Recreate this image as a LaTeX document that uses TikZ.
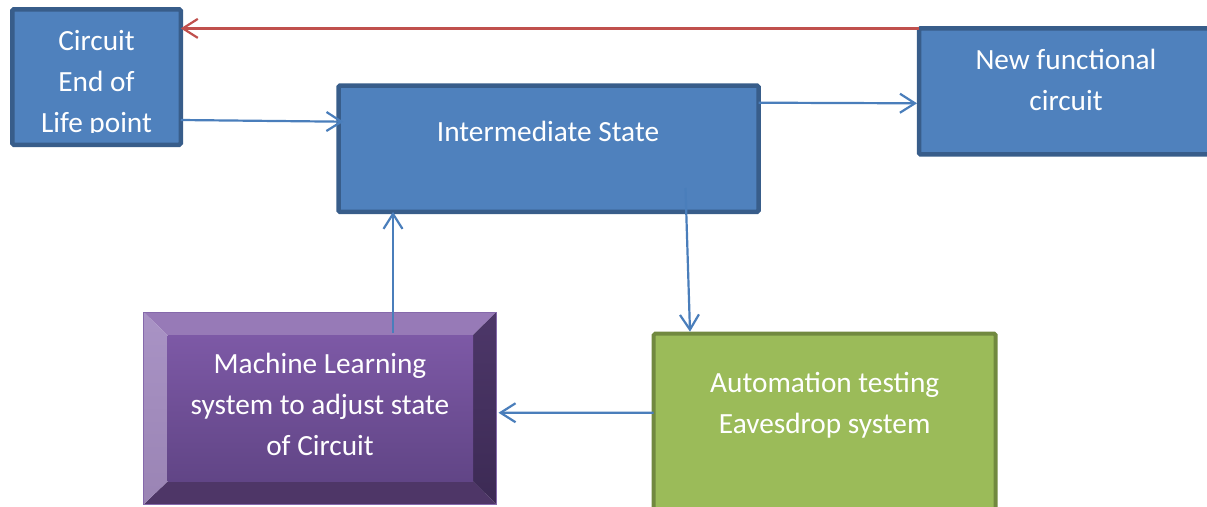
\documentclass[tikz,border=0pt]{standalone}
\usepackage{fontspec}
\setmainfont{Carlito}
\usetikzlibrary{arrows.meta,calc}

\definecolor{boxblue}{HTML}{4F81BD}
\definecolor{boxblueline}{HTML}{385D8A}
\definecolor{greenfill}{HTML}{9BBB59}
\definecolor{greenline}{HTML}{71893F}
\definecolor{arrowblue}{HTML}{4A7EBB}
\definecolor{backred}{HTML}{C0504D}
\definecolor{mltop}{HTML}{977AB7}
\definecolor{mlleftA}{HTML}{A993C5}
\definecolor{mlleftB}{HTML}{9A84B4}
\definecolor{mlrightA}{HTML}{4D3769}
\definecolor{mlrightB}{HTML}{3C2A54}
\definecolor{mlbottom}{HTML}{4E3667}
\definecolor{mlfaceA}{HTML}{7D59A6}
\definecolor{mlfaceB}{HTML}{614586}
\definecolor{mlline}{HTML}{8569AB}

\tikzset{
  blockbase/.style={rectangle, inner sep=0pt, outer sep=0pt, rounded corners=1.5pt},
  bluebox/.style={blockbase, draw=boxblueline, fill=boxblue, line width=4.5pt},
  greenbox/.style={blockbase, draw=greenline, fill=greenfill, line width=4pt},
  boxtext/.style={text=white, font=\fontsize{29.3}{41}\selectfont, inner sep=0pt, anchor=base},
  flow/.style={draw=arrowblue, line width=2.2pt, -{Straight Barb[length=15pt,width=19pt]}},
  back/.style={draw=backred, line width=2.2pt, -{Straight Barb[length=15pt,width=19pt]}}
}
\newcommand\stacklines[1]{\begin{tabular}[t]{@{}c@{}}#1\end{tabular}}

\begin{document}
\begin{tikzpicture}[x=1pt,y=-1pt]
\useasboundingbox (0,0) rectangle (1207,506);
\clip (0,0) rectangle (1207,506);

% blue process boxes
\node[bluebox, minimum width=168.5pt, minimum height=135.5pt] (circ) at (96.5,77) {};
\begin{scope}
  \clip (0,0) rectangle (1207,132);
  \node[boxtext] (circt) at (96.5,50) {\stacklines{Circuit\\End of\\Life point}};
\end{scope}

\node[bluebox, minimum width=420pt, minimum height=126.3pt] (inter) at (548.5,148.7) {};
\node[boxtext] (intert) at (548,141.7) {Intermediate State};

\node[bluebox, minimum width=294pt, minimum height=126pt] (newf) at (1066,91.4) {};
\node[boxtext] (newft) at (1066,69) {\stacklines{New functional\\circuit}};

% green testing box
\node[greenbox, minimum width=342pt, minimum height=190pt] (auto) at (824.7,428.7) {};
\node[boxtext] (autot) at (824.7,392.7) {\stacklines{Automation testing\\Eavesdrop system}};

% bevelled learning box
\node[rectangle, inner sep=0pt, outer sep=0pt, minimum width=353pt, minimum height=192.5pt] (ml) at (320,408.25) {};
\coordinate (fa) at ([shift={(24,23)}]ml.north west);
\coordinate (fb) at ([shift={(-23.5,23)}]ml.north east);
\coordinate (fc) at ([shift={(-23.5,-23)}]ml.south east);
\coordinate (fd) at ([shift={(24,-23)}]ml.south west);
\fill[mltop] (ml.north west) -- (ml.north east) -- (fb) -- (fa) -- cycle;
\shade[top color=mlrightA, bottom color=mlrightB] (ml.north east) -- (ml.south east) -- (fc) -- (fb) -- cycle;
\fill[mlbottom] (ml.south east) -- (ml.south west) -- (fd) -- (fc) -- cycle;
\shade[top color=mlleftA, bottom color=mlleftB] (ml.south west) -- (ml.north west) -- (fa) -- (fd) -- cycle;
\shade[top color=mlfaceA, bottom color=mlfaceB] (fa) rectangle (fc);
\draw[mlline, line width=1pt] (ml.north west) rectangle (ml.south east);
\node[boxtext] (mlt) at (320,373) {\stacklines{Machine Learning\\system to adjust state\\of Circuit}};

% connectors
\draw[back] (newf.north west) -- (circ.east |- newf.north west);
\draw[flow] ([yshift=-43pt]circ.east) -- ([xshift=5pt,yshift=27pt]inter.west);
\draw[flow] ([yshift=46pt]inter.east) -- ([xshift=-2pt,yshift=-11.9pt]newf.west);
\draw[flow] ([xshift=137pt,yshift=-39.3pt]inter.center) -- ([xshift=-134.7pt,yshift=2pt]auto.north);
\draw[flow] ([yshift=16pt]auto.west) -- ([xshift=2pt,yshift=-4.5pt]ml.east);
\draw[flow] ([xshift=73pt,yshift=-21pt]ml.north) -- ([xshift=73pt]ml.north |- inter.south);
\end{tikzpicture}
\end{document}
